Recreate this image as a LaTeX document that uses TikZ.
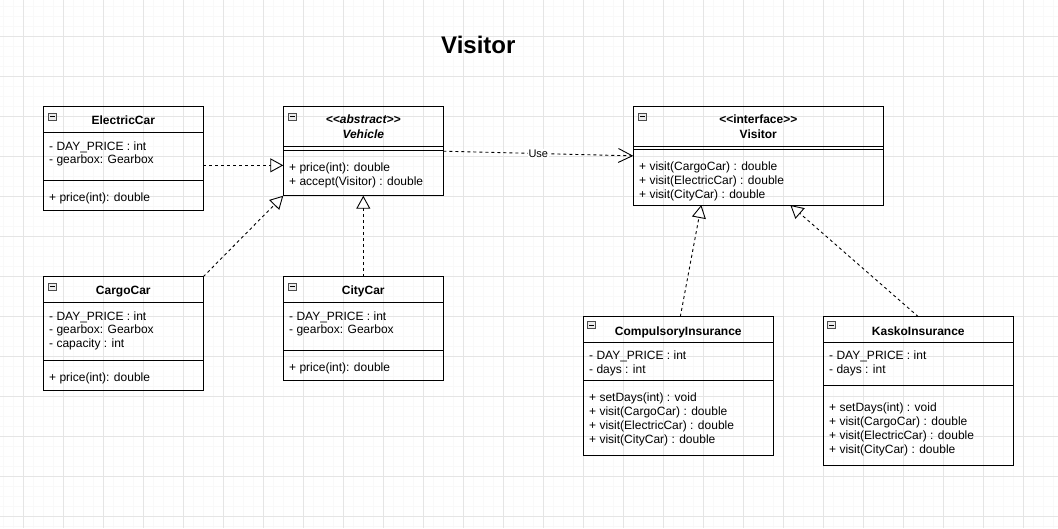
\documentclass[tikz,border=0pt]{standalone}
\usepackage{fontspec}
\setmainfont{Liberation Sans}
\usetikzlibrary{arrows.meta}

\tikzset{
  gridminor/.style={gray!5, line width=0.8pt},
  gridmajor/.style={gray!20, line width=0.8pt},
  classbox/.style={draw, line width=1pt, anchor=north west, inner sep=0pt, outer sep=0pt},
  sepline/.style={line width=1pt},
  minusbox/.style={draw=gray!60!black, fill=gray!15, line width=0.5pt, minimum width=8pt, minimum height=7pt, inner sep=0pt},
  classname/.style={anchor=base, inner sep=0pt, font=\bfseries\fontsize{12}{14}\selectfont},
  member/.style={anchor=base west, inner sep=0pt, font=\fontsize{12}{14}\selectfont},
  realize/.style={draw, line width=0.9pt, dash pattern=on 3pt off 3pt, -{Triangle[open, length=13pt, width=14pt]}},
  depend/.style={draw, line width=0.9pt, dash pattern=on 3pt off 3pt, -{Straight Barb[length=14pt, width=14pt]}}
}

\begin{document}
\begin{tikzpicture}[x=1pt, y=-1pt]
\useasboundingbox (0,0) rectangle (1058,528);

% background grid
\foreach \x in {3,13,...,1053} \draw[gridminor] (\x,0) -- (\x,528);
\foreach \y in {6,16,...,526} \draw[gridminor] (0,\y) -- (1058,\y);
\foreach \x in {23,63,...,1023} \draw[gridmajor] (\x,0) -- (\x,528);
\foreach \y in {36,76,...,516} \draw[gridmajor] (0,\y) -- (1058,\y);

\node[anchor=base, inner sep=0pt, font=\bfseries\fontsize{24}{28}\selectfont] (title) at (478.3,53) {Visitor};

% ElectricCar
\node[classbox, minimum width=160pt, minimum height=103.3pt] (electric) at (43.3,106.7) {};
\node[minusbox] (electric-min) at (52.5,116.7) {\rule{5pt}{0.8pt}};
\node[classname] (electric-name) at (123.3,124.3) {ElectricCar};
\draw[sepline] (43.3,132.3) -- (203.3,132.3);
\node[member] (electric-a1) at (49,150) {- DAY\_PRICE : int};
\node[member] (electric-a2) at (49,163.5) {- gearbox: Gearbox};
\draw[sepline] (43.3,180) -- (203.3,180);
\node[member] (electric-m1) at (49,201) {+ price(int): double};

% Vehicle
\node[classbox, minimum width=160pt, minimum height=89pt] (vehicle) at (283.3,106.7) {};
\node[minusbox] (vehicle-min) at (292.5,116.7) {\rule{5pt}{0.8pt}};
\node[classname, font=\bfseries\itshape\fontsize{12}{14}\selectfont] (vehicle-st) at (363.3,123.3) {{<}{<}abstract{>}{>}};
\node[classname, font=\bfseries\itshape\fontsize{12}{14}\selectfont] (vehicle-name) at (363.3,138.3) {Vehicle};
\draw[sepline] (283.3,146.7) -- (443.3,146.7);
\draw[sepline] (283.3,150) -- (443.3,150);
\node[member] (vehicle-m1) at (289,171) {+ price(int): double};
\node[member] (vehicle-m2) at (289,185.7) {+ accept(Visitor) : double};

% Visitor
\node[classbox, minimum width=250pt, minimum height=98.3pt] (visitor) at (633.3,106.7) {};
\node[minusbox] (visitor-min) at (642.5,116.7) {\rule{5pt}{0.8pt}};
\node[classname] (visitor-st) at (758.3,123.3) {{<}{<}interface{>}{>}};
\node[classname] (visitor-name) at (758.3,138) {Visitor};
\draw[sepline] (633.3,146) -- (883.3,146);
\draw[sepline] (633.3,149.3) -- (883.3,149.3);
\node[member] (visitor-m1) at (639,170) {+ visit(CargoCar) : double};
\node[member] (visitor-m2) at (639,184) {+ visit(ElectricCar) : double};
\node[member] (visitor-m3) at (639,198) {+ visit(CityCar) : double};

% CargoCar
\node[classbox, minimum width=160pt, minimum height=113.3pt] (cargo) at (43.3,276.7) {};
\node[minusbox] (cargo-min) at (52.5,286.7) {\rule{5pt}{0.8pt}};
\node[classname] (cargo-name) at (123.3,294.3) {CargoCar};
\draw[sepline] (43.3,302.3) -- (203.3,302.3);
\node[member] (cargo-a1) at (49,320) {- DAY\_PRICE : int};
\node[member] (cargo-a2) at (49,333.5) {- gearbox: Gearbox};
\node[member] (cargo-a3) at (49,347.5) {- capacity : int};
\draw[sepline] (43.3,360) -- (203.3,360);
\node[member] (cargo-m1) at (49,381) {+ price(int): double};

% CityCar
\node[classbox, minimum width=160pt, minimum height=103.3pt] (city) at (283.3,276.7) {};
\node[minusbox] (city-min) at (292.5,286.7) {\rule{5pt}{0.8pt}};
\node[classname] (city-name) at (363.3,294.3) {CityCar};
\draw[sepline] (283.3,302.3) -- (443.3,302.3);
\node[member] (city-a1) at (289,320) {- DAY\_PRICE : int};
\node[member] (city-a2) at (289,333.5) {- gearbox: Gearbox};
\draw[sepline] (283.3,350) -- (443.3,350);
\node[member] (city-m1) at (289,371) {+ price(int): double};

% CompulsoryInsurance
\node[classbox, minimum width=190pt, minimum height=139pt] (compulsory) at (583.3,316.7) {};
\node[minusbox] (compulsory-min) at (591.7,325) {\rule{5pt}{0.8pt}};
\node[classname] (compulsory-name) at (678.3,335) {CompulsoryInsurance};
\draw[sepline] (583.3,342.7) -- (773.3,342.7);
\node[member] (compulsory-a1) at (589,359) {- DAY\_PRICE : int};
\node[member] (compulsory-a2) at (589,373) {- days : int};
\draw[sepline] (583.3,380.7) -- (773.3,380.7);
\node[member] (compulsory-m1) at (589,401.7) {+ setDays(int) : void};
\node[member] (compulsory-m2) at (589,415.5) {+ visit(CargoCar) : double};
\node[member] (compulsory-m3) at (589,429.3) {+ visit(ElectricCar) : double};
\node[member] (compulsory-m4) at (589,443) {+ visit(CityCar) : double};

% KaskoInsurance
\node[classbox, minimum width=190pt, minimum height=149pt] (kasko) at (823.3,316.7) {};
\node[minusbox] (kasko-min) at (831.7,325) {\rule{5pt}{0.8pt}};
\node[classname] (kasko-name) at (918.3,335) {KaskoInsurance};
\draw[sepline] (823.3,342.7) -- (1013.3,342.7);
\node[member] (kasko-a1) at (829,359) {- DAY\_PRICE : int};
\node[member] (kasko-a2) at (829,373) {- days : int};
\draw[sepline] (823.3,385.7) -- (1013.3,385.7);
\node[member] (kasko-m1) at (829,411.7) {+ setDays(int) : void};
\node[member] (kasko-m2) at (829,425.5) {+ visit(CargoCar) : double};
\node[member] (kasko-m3) at (829,439.3) {+ visit(ElectricCar) : double};
\node[member] (kasko-m4) at (829,453) {+ visit(CityCar) : double};

% connectors
\draw[realize] ([yshift=-7pt]electric.east) -- ([yshift=-7pt]electric.east -| vehicle.west);
\draw[realize] (cargo.north east) -- (vehicle.south west);
\draw[realize] (city.north) -- (vehicle.south);
\draw[depend] (vehicle.east) -- node[fill=white, inner sep=1pt, font=\fontsize{11}{13}\selectfont] (use) {Use} (visitor.west);
\draw[realize] ([xshift=2pt]compulsory.north) -- ([xshift=-57pt]visitor.south);
\draw[realize] (kasko.north) -- ([xshift=32pt]visitor.south);
\end{tikzpicture}
\end{document}
